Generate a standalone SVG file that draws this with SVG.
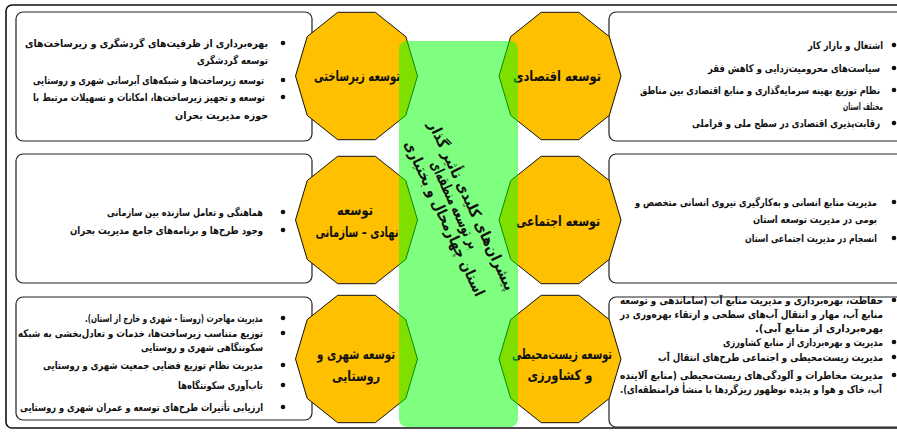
<svg xmlns="http://www.w3.org/2000/svg" width="897" height="432" viewBox="0 0 897 432">
<defs>
<style>
.frame{fill:none;stroke:#111;stroke-width:1.6}
.box{fill:#fff;stroke:#222;stroke-width:1.2}
.deca{fill:#FFC000;stroke:#111;stroke-width:1}
.t{font-family:"DejaVu Sans",sans-serif;font-weight:bold;font-size:10.5px;fill:#111;text-anchor:start}
.lab{font-family:"DejaVu Sans",sans-serif;font-weight:bold;font-size:14px;fill:#111;text-anchor:middle}
.ctr{font-family:"DejaVu Sans",sans-serif;font-weight:bold;font-size:15px;fill:#111;text-anchor:middle}
.green{fill:#00FF00;fill-opacity:0.5}
.dot{fill:#111}
</style>
<polygon id="decagon" points="61,0 49.3,39.4 18.8,63.7 -18.8,63.7 -49.3,39.4 -61,0 -49.3,-39.4 -18.8,-63.7 18.8,-63.7 49.3,-39.4"/>
</defs>
<rect width="897" height="432" fill="#fff"/>
<rect class="frame" x="6" y="5" width="900" height="423" rx="6"/>

<g id="box-infra">
<rect class="box" x="16" y="12" width="296" height="129" rx="7"/>
<circle class="dot" cx="283" cy="43" r="2.3"/><circle class="dot" cx="283" cy="80" r="2.3"/><circle class="dot" cx="283" cy="97" r="2.3"/>
<text class="t" x="25" y="47" textLength="243" lengthAdjust="spacingAndGlyphs">&#x200F;بهره&#x200C;برداری از ظرفیت&#x200C;های گردشگری و زیرساخت&#x200C;های&#x200F;</text>
<text class="t" x="197" y="64" textLength="71" lengthAdjust="spacingAndGlyphs">&#x200F;توسعه گردشگری&#x200F;</text>
<text class="t" x="33" y="84" textLength="231" lengthAdjust="spacingAndGlyphs">&#x200F;توسعه زیرساخت&#x200C;ها و شبکه&#x200C;های آبرسانی شهری و روستایی&#x200F;</text>
<text class="t" x="33" y="101" textLength="232" lengthAdjust="spacingAndGlyphs">&#x200F;توسعه و تجهیز زیرساخت&#x200C;ها، امکانات و تسهیلات مرتبط با&#x200F;</text>
<text class="t" x="175" y="119" textLength="93" lengthAdjust="spacingAndGlyphs">&#x200F;حوزه مدیریت بحران&#x200F;</text>
</g>

<g id="box-econ">
<rect class="box" x="609" y="12" width="300" height="129" rx="7"/>
<circle class="dot" cx="894" cy="45" r="2.3"/><circle class="dot" cx="894" cy="68" r="2.3"/><circle class="dot" cx="894" cy="90" r="2.3"/><circle class="dot" cx="894" cy="123" r="2.3"/>
<text class="t" x="808" y="49" textLength="75" lengthAdjust="spacingAndGlyphs">&#x200F;اشتغال و بازار کار&#x200F;</text>
<text class="t" x="708" y="72" textLength="172" lengthAdjust="spacingAndGlyphs">&#x200F;سیاست&#x200C;های محرومیت&#x200C;زدایی و کاهش فقر&#x200F;</text>
<text class="t" x="640" y="94" textLength="240" lengthAdjust="spacingAndGlyphs">&#x200F;نظام توزیع بهینه سرمایه&#x200C;گذاری و منابع اقتصادی بین مناطق&#x200F;</text>
<text class="t" x="843" y="110" textLength="40" lengthAdjust="spacingAndGlyphs">&#x200F;مختلف استان&#x200F;</text>
<text class="t" x="692" y="127" textLength="188" lengthAdjust="spacingAndGlyphs">&#x200F;رقابت&#x200C;پذیری اقتصادی در سطح ملی و فراملی&#x200F;</text>
</g>

<g id="box-inst">
<rect class="box" x="16" y="154" width="296" height="129" rx="7"/>
<circle class="dot" cx="283" cy="212" r="2.3"/><circle class="dot" cx="283" cy="230" r="2.3"/>
<text class="t" x="107" y="216" textLength="156" lengthAdjust="spacingAndGlyphs">&#x200F;هماهنگی و تعامل سازنده بین سازمانی&#x200F;</text>
<text class="t" x="70" y="234" textLength="193" lengthAdjust="spacingAndGlyphs">&#x200F;وجود طرح&#x200C;ها و برنامه&#x200C;های جامع مدیریت بحران&#x200F;</text>
</g>

<g id="box-social">
<rect class="box" x="609" y="154" width="300" height="129" rx="7"/>
<circle class="dot" cx="894" cy="202" r="2.3"/><circle class="dot" cx="894" cy="238" r="2.3"/>
<text class="t" x="635" y="206" textLength="242" lengthAdjust="spacingAndGlyphs">&#x200F;مدیریت منابع انسانی و به&#x200C;کارگیری نیروی انسانی متخصص و&#x200F;</text>
<text class="t" x="753" y="223" textLength="124" lengthAdjust="spacingAndGlyphs">&#x200F;بومی در مدیریت توسعه استان&#x200F;</text>
<text class="t" x="745" y="242" textLength="132" lengthAdjust="spacingAndGlyphs">&#x200F;انسجام در مدیریت اجتماعی استان&#x200F;</text>
</g>

<g id="box-urban">
<rect class="box" x="16" y="297" width="296" height="123" rx="7"/>
<circle class="dot" cx="283" cy="318" r="2.3"/><circle class="dot" cx="283" cy="333" r="2.3"/><circle class="dot" cx="283" cy="365" r="2.3"/><circle class="dot" cx="283" cy="385" r="2.3"/><circle class="dot" cx="283" cy="407" r="2.3"/>
<text class="t" x="85" y="322" textLength="178" lengthAdjust="spacingAndGlyphs">&#x200F;مدیریت مهاجرت (روستا - شهری و خارج از استان).&#x200F;</text>
<text class="t" x="18" y="337" textLength="245" lengthAdjust="spacingAndGlyphs">&#x200F;توزیع متناسب زیرساخت&#x200C;ها، خدمات و تعادل&#x200C;بخشی به شبکه&#x200F;</text>
<text class="t" x="141" y="351" textLength="122" lengthAdjust="spacingAndGlyphs">&#x200F;سکونتگاهی شهری و روستایی&#x200F;</text>
<text class="t" x="43" y="369" textLength="220" lengthAdjust="spacingAndGlyphs">&#x200F;مدیریت نظام توزیع فضایی جمعیت شهری و روستایی&#x200F;</text>
<text class="t" x="178" y="389" textLength="85" lengthAdjust="spacingAndGlyphs">&#x200F;تاب&#x200C;آوری سکونتگاه&#x200C;ها&#x200F;</text>
<text class="t" x="20" y="411" textLength="243" lengthAdjust="spacingAndGlyphs">&#x200F;ارزیابی تأثیرات طرح&#x200C;های توسعه و عمران شهری و روستایی&#x200F;</text>
</g>

<g id="box-env">
<rect class="box" x="609" y="297" width="300" height="130" rx="7"/>
<circle class="dot" cx="894" cy="300" r="2.3"/><circle class="dot" cx="894" cy="342" r="2.3"/><circle class="dot" cx="894" cy="357" r="2.3"/><circle class="dot" cx="894" cy="375" r="2.3"/>
<text class="t" x="620" y="304" textLength="263" lengthAdjust="spacingAndGlyphs">&#x200F;حفاظت، بهره&#x200C;برداری و مدیریت منابع آب (ساماندهی و توسعه&#x200F;</text>
<text class="t" x="620" y="318" textLength="263" lengthAdjust="spacingAndGlyphs">&#x200F;منابع آب، مهار و انتقال آب&#x200C;های سطحی و ارتقاء بهره&#x200C;وری در&#x200F;</text>
<text class="t" x="755" y="332" textLength="128" lengthAdjust="spacingAndGlyphs">&#x200F;بهره&#x200C;برداری از منابع آبی).&#x200F;</text>
<text class="t" x="723" y="346" textLength="160" lengthAdjust="spacingAndGlyphs">&#x200F;مدیریت و بهره&#x200C;برداری از منابع کشاورزی&#x200F;</text>
<text class="t" x="658" y="361" textLength="225" lengthAdjust="spacingAndGlyphs">&#x200F;مدیریت زیست&#x200C;محیطی و اجتماعی طرح&#x200C;های انتقال آب&#x200F;</text>
<text class="t" x="620" y="379" textLength="263" lengthAdjust="spacingAndGlyphs">&#x200F;مدیریت مخاطرات و آلودگی&#x200C;های زیست&#x200C;محیطی (منابع آلاینده&#x200F;</text>
<text class="t" x="620" y="393" textLength="262" lengthAdjust="spacingAndGlyphs">&#x200F;آب، خاک و هوا و پدیده نوظهور ریزگردها با منشأ فرامنطقه&#x200C;ای).&#x200F;</text>
</g>

<g id="node-infra">
<use href="#decagon" class="deca" transform="translate(356.5,76)"/>
<text class="lab" x="357" y="81" textLength="86" lengthAdjust="spacingAndGlyphs">توسعه زیرساختی</text>
</g>
<g id="node-econ">
<use href="#decagon" class="deca" transform="translate(560,76)"/>
<text class="lab" x="557" y="81" textLength="88" lengthAdjust="spacingAndGlyphs">توسعه اقتصادی</text>
</g>
<g id="node-inst">
<use href="#decagon" class="deca" transform="translate(356.5,220)"/>
<text class="lab" x="355" y="215" textLength="36" lengthAdjust="spacingAndGlyphs">توسعه</text>
<text class="lab" x="357" y="237" textLength="83" lengthAdjust="spacingAndGlyphs">نهادی – سازمانی</text>
</g>
<g id="node-social">
<use href="#decagon" class="deca" transform="translate(560,220)"/>
<text class="lab" x="558" y="226" textLength="84" lengthAdjust="spacingAndGlyphs">توسعه اجتماعی</text>
</g>
<g id="node-urban">
<use href="#decagon" class="deca" transform="translate(356.5,359)"/>
<text class="lab" x="356" y="359" textLength="78" lengthAdjust="spacingAndGlyphs">توسعه شهری و</text>
<text class="lab" x="356" y="381" textLength="48" lengthAdjust="spacingAndGlyphs">روستایی</text>
</g>
<g id="node-env">
<use href="#decagon" class="deca" transform="translate(560,359)"/>
<text class="lab" x="562" y="359" textLength="100" lengthAdjust="spacingAndGlyphs">توسعه زیست&#x200C;محیطی</text>
<text class="lab" x="560" y="380" textLength="65" lengthAdjust="spacingAndGlyphs">و کشاورزی</text>
</g>

<g id="connectors"></g>

<g id="center">
<rect class="green" x="399" y="41" width="119" height="386" rx="8"/>
<g transform="translate(458,212) rotate(65)">
<text class="ctr" x="0" y="-10" textLength="185" lengthAdjust="spacingAndGlyphs">پیشران&#x200C;های کلیدی تأثیر گذار</text>
<text class="ctr" x="-8" y="5" textLength="95" lengthAdjust="spacingAndGlyphs">بر توسعه منطقه&#x200C;ای</text>
<text class="ctr" x="0" y="20" textLength="170" lengthAdjust="spacingAndGlyphs">استان چهارمحال و بختیاری</text>
</g>
</g>
</svg>
